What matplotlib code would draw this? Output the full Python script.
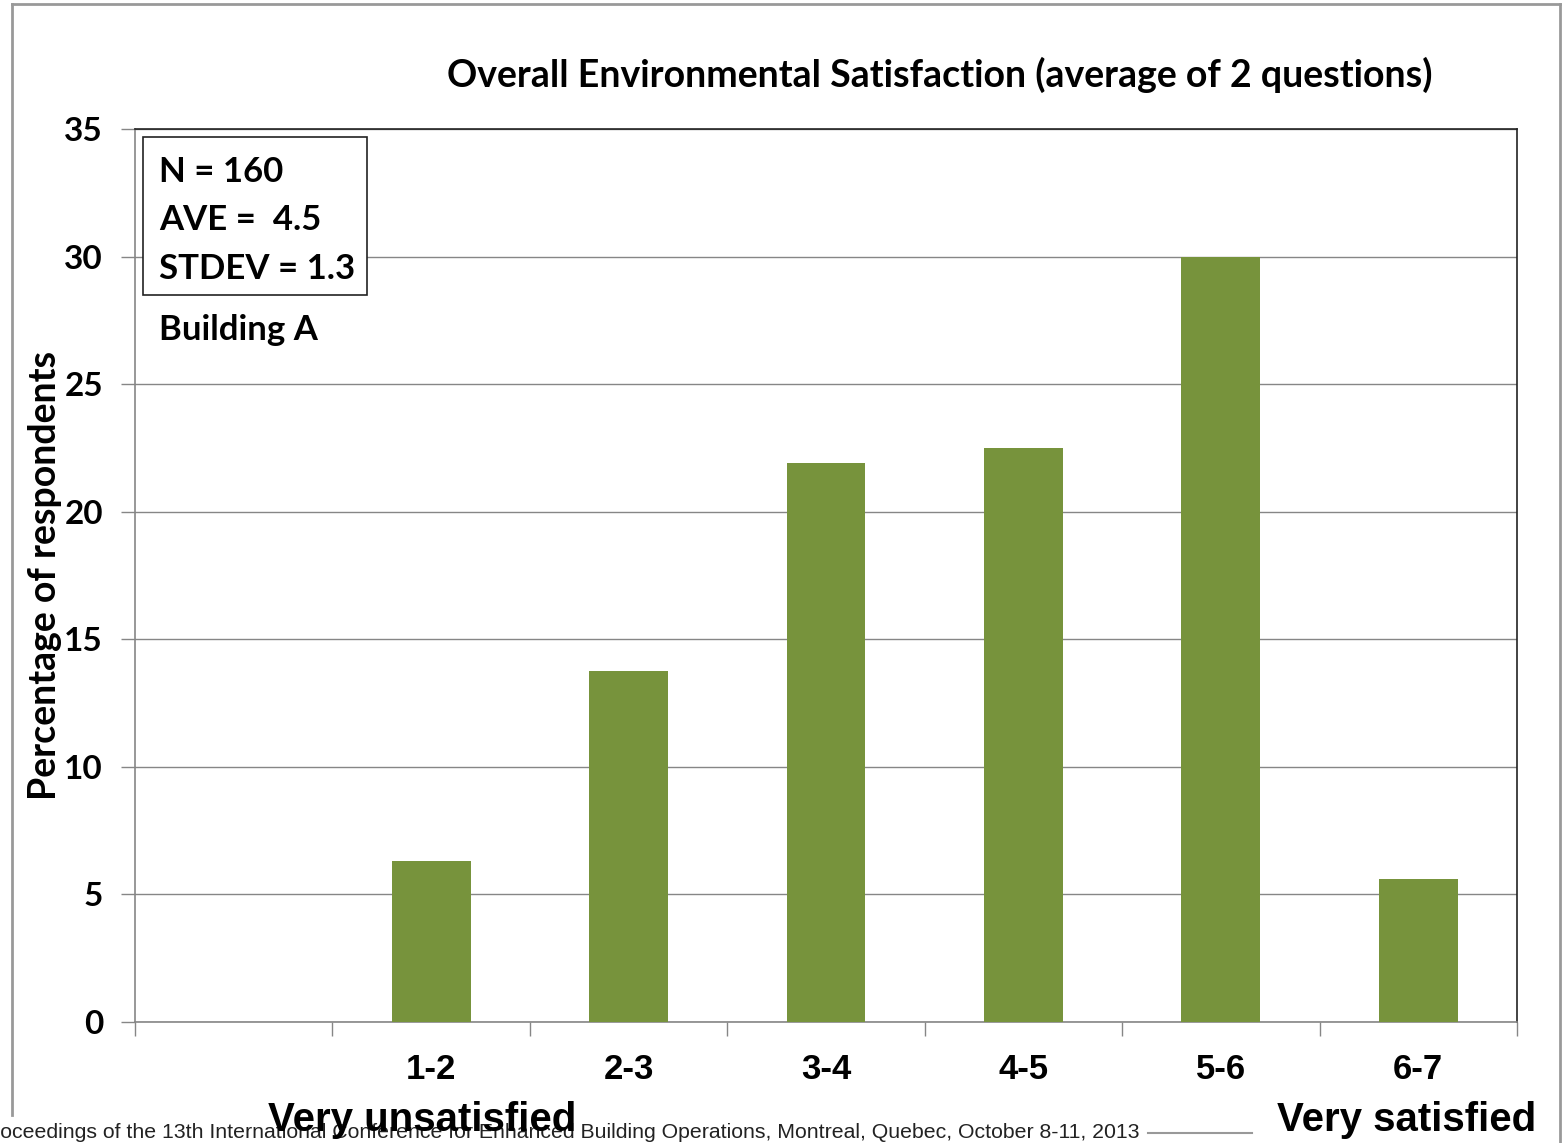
import numpy as np
import matplotlib.pyplot as plt
from matplotlib.patches import Rectangle
from matplotlib.lines import Line2D

# survey results, percentage of respondents per score band
categories = ["", "1-2", "2-3", "3-4", "4-5", "5-6", "6-7"]
percentages = [0.0, 6.3, 13.75, 21.9, 22.5, 30.0, 5.6]
yticks = [0, 5, 10, 15, 20, 25, 30, 35]
stats_lines = ["N = 160", "AVE =  4.5", "STDEV = 1.3"]

bar_color = "#77933C"
calibri = ["Lato", "DejaVu Sans"]
arial = ["Liberation Sans", "DejaVu Sans"]

fig = plt.figure(figsize=(15.64, 11.43), dpi=100)
ax = fig.add_axes([135 / 1564, 1 - 1022 / 1143, (1517 - 135) / 1564, (1022 - 129) / 1143])

x = np.arange(len(categories))
ax.bar(x[1:], percentages[1:], width=0.4, color=bar_color, zorder=3)

ax.set_xlim(-0.5, len(categories) - 0.5)
ax.set_ylim(0, 35)
ax.set_yticks(yticks)
ax.set_yticklabels([str(t) for t in yticks], fontfamily=calibri, fontweight="bold", fontsize=24)
ax.yaxis.grid(True, color="#868686", linewidth=1.0, zorder=0)

# category boundaries as ticks, labels in between
ax.set_xticks(np.arange(len(categories) + 1) - 0.5)
ax.set_xticklabels([])
ax.set_xticks(x, minor=True)
ax.set_xticklabels(categories, minor=True, fontfamily=arial, fontweight="bold", fontsize=25)
ax.tick_params(axis="x", which="minor", length=0, pad=22)
ax.tick_params(axis="x", which="major", length=10, color="#868686", width=1)
ax.tick_params(axis="y", length=10, color="#868686", width=1, pad=13)

for side in ["top", "right"]:
    ax.spines[side].set_color("#222222")
    ax.spines[side].set_linewidth(1.2)
for side in ["left", "bottom"]:
    ax.spines[side].set_color("#868686")
    ax.spines[side].set_linewidth(1.2)

ax.set_ylabel("Percentage of respondents", fontfamily=calibri, fontweight="bold", fontsize=27, labelpad=2)

fig.text(940 / 1564, 1 - 75 / 1143, "Overall Environmental Satisfaction (average of 2 questions)",
         fontfamily=calibri, fontweight="bold", fontsize=27, ha="center", va="center")

# statistics box
fig.patches.append(Rectangle((143 / 1564, 1 - 295 / 1143), (367 - 143) / 1564, (295 - 137) / 1143,
                             transform=fig.transFigure, fill=True, facecolor="white",
                             edgecolor="#222222", linewidth=1.2, zorder=5))
for i, line in enumerate(stats_lines):
    fig.text(159 / 1564, 1 - (172 + i * 48.5) / 1143, line, fontfamily=calibri, fontweight="bold",
             fontsize=25, ha="left", va="center", zorder=6)
fig.text(159 / 1564, 1 - 330 / 1143, "Building A", fontfamily=calibri, fontweight="bold",
         fontsize=25, ha="left", va="center")

# footer and scale end labels
fig.text(-21 / 1564, 1 - 1133 / 1143,
         "Proceedings of the 13th International Conference for Enhanced Building Operations, "
         "Montreal, Quebec, October 8-11, 2013",
         fontfamily=arial, fontsize=15.3, ha="left", va="center", color="#222222")
fig.text(422 / 1564, 1 - 1120 / 1143, "Very unsatisfied", fontfamily=arial, fontweight="bold",
         fontsize=29, ha="center", va="center")
fig.text(1407 / 1564, 1 - 1120 / 1143, "Very satisfied", fontfamily=arial, fontweight="bold",
         fontsize=29, ha="center", va="center")

# page border
border = dict(transform=fig.transFigure, color="#999999", linewidth=2)
fig.lines.append(Line2D([12 / 1564, 1560 / 1564], [1 - 4 / 1143, 1 - 4 / 1143], **border))
fig.lines.append(Line2D([12 / 1564, 12 / 1564], [1 - 4 / 1143, 1 - 1115 / 1143], **border))
fig.lines.append(Line2D([1560 / 1564, 1560 / 1564], [1 - 4 / 1143, 0], **border))
fig.lines.append(Line2D([1148 / 1564, 1252 / 1564], [1 - 1133 / 1143, 1 - 1133 / 1143],
                        transform=fig.transFigure, color="#999999", linewidth=1.5))

fig.savefig("out.png", dpi=100)
